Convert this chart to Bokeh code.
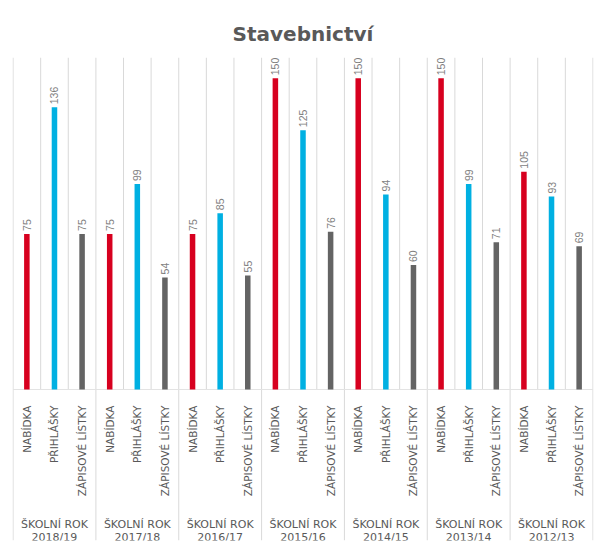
import math
from bokeh.plotting import figure
from bokeh.models import ColumnDataSource, Range1d
from bokeh.core.properties import value
from bokeh.embed import file_html
from bokeh.resources import INLINE

# ---- data ----
chart_title = "Stavebnictví"
group_prefix = "ŠKOLNÍ ROK"
years = ["2018/19", "2017/18", "2016/17", "2015/16", "2014/15", "2013/14", "2012/13"]
series_names = ["NABÍDKA", "PŘIHLÁŠKY", "ZÁPISOVÉ LÍSTKY"]
nabidka = [75, 75, 75, 150, 150, 150, 105]
prihlasky = [136, 99, 85, 125, 94, 99, 93]
zapisove = [75, 54, 55, 76, 60, 71, 69]
series_colors = ["#D7001F", "#00B0E2", "#646464"]

# ---- layout constants ----
W, H = 600, 548
BL, BR, BT, BB = 12, 7, 57, 8
Y1 = 160
FRAME_H = H - BT - BB
PPU = 2.075  # pixels per data unit
Y0 = Y1 - FRAME_H / PPU
def px(v):
    return v / PPU

n_groups = len(years)
n_sub = len(series_names)
n_slots = n_groups * n_sub

values = [nabidka, prihlasky, zapisove]
xs, tops, cols, labs, subnames = [], [], [], [], []
for g in range(n_groups):
    for s in range(n_sub):
        xs.append(g * n_sub + s + 0.5)
        tops.append(values[s][g])
        cols.append(series_colors[s])
        labs.append(str(values[s][g]))
        subnames.append(series_names[s])

src = ColumnDataSource(dict(x=xs, top=tops, color=cols, label=labs, sub=subnames,
                            ylab=[t + px(3) for t in tops]))

p = figure(width=W, height=H, output_backend="svg", toolbar_location=None,
           x_range=Range1d(-0.02, n_slots + 0.02), y_range=Range1d(Y0, Y1),
           min_border_left=BL, min_border_right=BR, min_border_top=BT, min_border_bottom=BB)
p.axis.visible = False
p.grid.visible = False
p.outline_line_color = None
p.background_fill_color = "white"
p.border_fill_color = "white"

p.title.text = chart_title
p.title.align = "center"
p.title.text_font = "DejaVu Sans"
p.title.text_font_size = "20px"
p.title.text_font_style = "bold"
p.title.text_color = "#595959"
p.title.standoff = 24

# grid lines
sub_x = [k for k in range(n_slots + 1) if k % n_sub != 0]
grp_x = [k for k in range(n_slots + 1) if k % n_sub == 0]
p.segment(x0=sub_x, x1=sub_x, y0=[0] * len(sub_x), y1=[Y1] * len(sub_x),
          line_color="#D9D9D9", line_width=1)
p.segment(x0=grp_x, x1=grp_x, y0=[Y0] * len(grp_x), y1=[Y1] * len(grp_x),
          line_color="#D9D9D9", line_width=1)
p.segment(x0=[0], x1=[n_slots], y0=[0], y1=[0], line_color="#E3E3E3", line_width=1)

# bars
p.vbar(x="x", top="top", bottom=0, width=0.2, fill_color="color", line_color=None, source=src)

# value labels
p.text(x="x", y="ylab", text="label", angle=math.pi / 2, text_align="left",
       text_baseline="middle", text_font=value("Liberation Sans"), text_font_size="10.5px",
       text_color="#7F7F7F", source=src)

# sub-category labels
p.text(x="x", y=-px(16), text="sub", angle=math.pi / 2, text_align="right",
       text_baseline="middle", text_font=value("DejaVu Sans"), text_font_size="10.5px",
       text_color="#595959", source=src)

# group labels
gx = [g * n_sub + n_sub / 2 for g in range(n_groups)]
p.text(x=gx, y=[-px(135)] * n_groups, text=[group_prefix] * n_groups, text_align="center",
       text_baseline="alphabetic", text_font=value("DejaVu Sans"), text_font_size="11px",
       text_color="#595959")
p.text(x=gx, y=[-px(148)] * n_groups, text=years, text_align="center",
       text_baseline="alphabetic", text_font=value("DejaVu Sans"), text_font_size="11px",
       text_color="#595959")

open("out.html", "w").write(file_html(p, INLINE))
